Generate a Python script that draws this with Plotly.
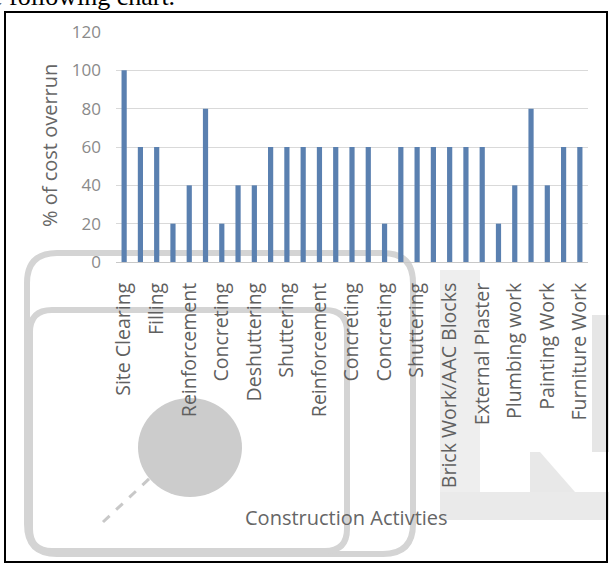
import plotly.graph_objects as go

# ---------------- data ----------------
values = [100, 60, 60, 20, 40, 80, 20, 40, 40, 60, 60, 60, 60, 60, 60,
          60, 20, 60, 60, 60, 60, 60, 60, 20, 40, 80, 40, 60, 60]
tick_labels = ["Site Clearing", "Filling", "Reinforcement", "Concreting",
               "Deshuttering", "Shuttering", "Reinforcement", "Concreting",
               "Concreting", "Shuttering", "Brick Work/AAC Blocks",
               "External Plaster", "Plumbing work", "Painting Work",
               "Furniture Work"]
y_ticks = [0, 20, 40, 60, 80, 100, 120]
x_title = "Construction Activties"
y_title = "% of cost overrun"
caption = "e following chart."

positions = list(range(1, len(values) + 1))
tickvals = positions[::2]

W, H = 609, 563
L, R, T, B = 116, 21, 32, 301
PW, PH = W - L - R, H - T - B

def px(x):
    return (x - L) / PW

def py(y):
    return (H - B - y) / PH

FONT = "Open Sans"
BAR = "#5a80b0"

fig = go.Figure(go.Bar(
    x=positions, y=values, marker=dict(color=BAR, line=dict(width=0)),
))

wm = "#d4d4d4"
shapes = []
# frame
shapes.append(dict(type="rect", xref="paper", yref="paper",
                   x0=px(5), x1=px(607), y0=py(562), y1=py(12),
                   line=dict(color="black", width=2), layer="above"))

def rrect(x0, y0, x1, y1, r):
    return (f"M{px(x0+r)},{py(y0)} L{px(x1-r)},{py(y0)} "
            f"Q{px(x1)},{py(y0)} {px(x1)},{py(y0+r)} "
            f"L{px(x1)},{py(y1-r)} Q{px(x1)},{py(y1)} {px(x1-r)},{py(y1)} "
            f"L{px(x0+r)},{py(y1)} Q{px(x0)},{py(y1)} {px(x0)},{py(y1-r)} "
            f"L{px(x0)},{py(y0+r)} Q{px(x0)},{py(y0)} {px(x0+r)},{py(y0)} Z")

# watermark rounded rectangles
shapes.append(dict(type="path", xref="paper", yref="paper",
                   path=rrect(27, 253, 413, 554, 30),
                   line=dict(color=wm, width=6), layer="below"))
shapes.append(dict(type="path", xref="paper", yref="paper",
                   path=rrect(30, 310, 347, 551, 22),
                   line=dict(color=wm, width=6), layer="below"))
# circle
shapes.append(dict(type="circle", xref="paper", yref="paper",
                   x0=px(138), x1=px(242), y0=py(497), y1=py(398),
                   fillcolor="#cccccc", line=dict(width=0), layer="below"))
# dashed handle
shapes.append(dict(type="line", xref="paper", yref="paper",
                   x0=px(103), y0=py(522), x1=px(150), y1=py(478),
                   line=dict(color="#c8c8c8", width=3, dash="dash"),
                   layer="below"))
# right blurred shapes
shapes.append(dict(type="rect", xref="paper", yref="paper",
                   x0=px(440), x1=px(480), y0=py(495), y1=py(270),
                   fillcolor="#eeeeee", line=dict(width=0), layer="below"))
shapes.append(dict(type="rect", xref="paper", yref="paper",
                   x0=px(440), x1=px(609), y0=py(520), y1=py(492),
                   fillcolor="#eaeaea", line=dict(width=0), layer="below"))
shapes.append(dict(type="rect", xref="paper", yref="paper",
                   x0=px(592), x1=px(609), y0=py(452), y1=py(315),
                   fillcolor="#e6e6e6", line=dict(width=0), layer="below"))
shapes.append(dict(type="path", xref="paper", yref="paper",
                   path=f"M{px(530)},{py(452)} L{px(540)},{py(452)} L{px(575)},{py(492)} L{px(530)},{py(492)} Z",
                   fillcolor="#e8e8e8", line=dict(width=0), layer="below"))

annotations = [
    dict(text=x_title, xref="paper", yref="paper", x=px(346), y=py(517),
         xanchor="center", yanchor="middle", showarrow=False,
         font=dict(family=FONT, size=20, color="#666666")),
    dict(text=y_title, xref="paper", yref="paper", x=px(49), y=py(146),
         xanchor="center", yanchor="middle", showarrow=False, textangle=-90,
         font=dict(family=FONT, size=20, color="#666666")),
    dict(text=caption, xref="paper", yref="paper", x=px(-11),
         y=py(13), xanchor="left", yanchor="bottom", showarrow=False,
         font=dict(family="Liberation Serif", size=26, color="black")),
]

fig.update_layout(
    width=W, height=H,
    margin=dict(l=L, r=R, t=T, b=B, pad=0),
    paper_bgcolor="white", plot_bgcolor="rgba(0,0,0,0)",
    bargap=0.68, showlegend=False,
    shapes=shapes, annotations=annotations,
    xaxis=dict(range=[0.5, len(values) + 0.5], tickmode="array",
               tickvals=tickvals, ticktext=tick_labels, tickangle=-90,
               showgrid=False, showline=True, linecolor="#c8c8c8",
               linewidth=1, ticks="", ticklabelstandoff=12,
               tickfont=dict(family=FONT, size=19.5, color="#606060"),
               zeroline=False, fixedrange=True),
    yaxis=dict(range=[0, 120], tickmode="array", tickvals=y_ticks,
               showgrid=True, gridcolor="#d9d9d9", gridwidth=1.3,
               zeroline=False, showline=False, ticks="",
               ticklabelstandoff=14,
               tickfont=dict(family=FONT, size=17, color="#8a8a8a"),
               fixedrange=True),
)

fig.write_html("out.html")
